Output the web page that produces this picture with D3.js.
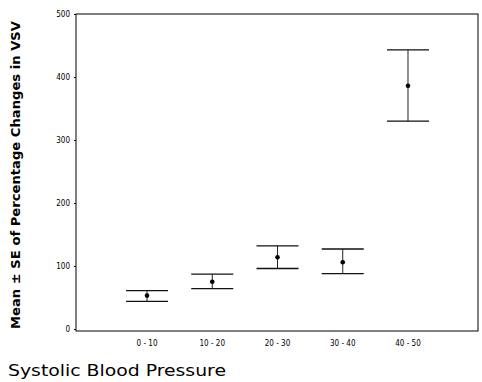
<!DOCTYPE html>
<html>
<head>
<meta charset="utf-8">
<script src="https://cdn.jsdelivr.net/npm/d3@7"></script>
<style>
  body { margin: 0; background: #fff; }
</style>
</head>
<body>
<svg id="chart" width="482" height="382"></svg>
<script>
const groups = ["0 - 10", "10 - 20", "20 - 30", "30 - 40", "40 - 50"];
const means = [53, 75, 114, 106, 386];
const upper = [61, 87, 132, 127, 443];
const lower = [44, 64, 96, 88, 330];
const yTicks = [0, 100, 200, 300, 400, 500];

const width = 482, height = 382;
const margin = ({top: 14, right: 4, bottom: 53, left: 76});

const svg = d3.select("#chart");

const x = d3.scaleBand()
    .domain(groups)
    .range([126, 429])
    .paddingInner(0.356)
    .paddingOuter(0);

const y = d3.scaleLinear()
    .domain([0, 500])
    .range([329, 14]);

// frame
svg.append("rect")
    .attr("x", margin.left)
    .attr("y", y(500))
    .attr("width", width - margin.right - margin.left)
    .attr("height", 331 - y(500))
    .attr("fill", "none")
    .attr("stroke", "#000")
    .attr("stroke-width", 1);

const yAxis = g => g
    .attr("transform", `translate(${margin.left},0)`)
    .call(d3.axisLeft(y).tickValues(yTicks).tickSize(2).tickPadding(4))
    .call(g => g.select(".domain").remove())
    .call(g => g.selectAll("text")
        .attr("font-family", "'Liberation Sans Narrow', 'DejaVu Sans Condensed', sans-serif")
        .attr("font-size", 8));

const xAxis = g => g
    .attr("transform", `translate(0,331)`)
    .call(d3.axisBottom(x).tickSize(0).tickPadding(9))
    .call(g => g.select(".domain").remove())
    .call(g => g.selectAll("text")
        .attr("font-family", "'Liberation Sans Narrow', 'DejaVu Sans Condensed', sans-serif")
        .attr("font-size", 8));

svg.append("g").call(yAxis);
svg.append("g").call(xAxis);

const rows = groups.map((g, i) => ({g, m: means[i], hi: upper[i], lo: lower[i]}));

const bars = svg.append("g")
    .selectAll("g")
    .data(rows)
    .join("g");

bars.append("line")
    .attr("x1", d => x(d.g) + x.bandwidth() / 2)
    .attr("x2", d => x(d.g) + x.bandwidth() / 2)
    .attr("y1", d => y(d.hi))
    .attr("y2", d => y(d.lo))
    .attr("stroke", "#222");

bars.append("line")
    .attr("x1", d => x(d.g))
    .attr("x2", d => x(d.g) + x.bandwidth())
    .attr("y1", d => y(d.hi))
    .attr("y2", d => y(d.hi))
    .attr("stroke", "#111")
    .attr("stroke-width", 1.3);

bars.append("line")
    .attr("x1", d => x(d.g))
    .attr("x2", d => x(d.g) + x.bandwidth())
    .attr("y1", d => y(d.lo))
    .attr("y2", d => y(d.lo))
    .attr("stroke", "#111")
    .attr("stroke-width", 1.3);

bars.append("circle")
    .attr("cx", d => x(d.g) + x.bandwidth() / 2)
    .attr("cy", d => y(d.m))
    .attr("r", 2.3)
    .attr("fill", "#000");

// axis titles
svg.append("text")
    .attr("transform", "translate(20,175) rotate(-90)")
    .attr("text-anchor", "middle")
    .attr("font-family", "'DejaVu Sans', sans-serif")
    .attr("font-weight", "bold")
    .attr("font-size", 12)
    .attr("textLength", 308)
    .attr("lengthAdjust", "spacingAndGlyphs")
    .text("Mean ± SE of Percentage Changes in VSV");

svg.append("text")
    .attr("x", 8)
    .attr("y", 376)
    .attr("font-family", "'DejaVu Sans', sans-serif")
    .attr("font-size", 16)
    .attr("textLength", 218)
    .attr("lengthAdjust", "spacingAndGlyphs")
    .text("Systolic Blood Pressure");
</script>
</body>
</html>
